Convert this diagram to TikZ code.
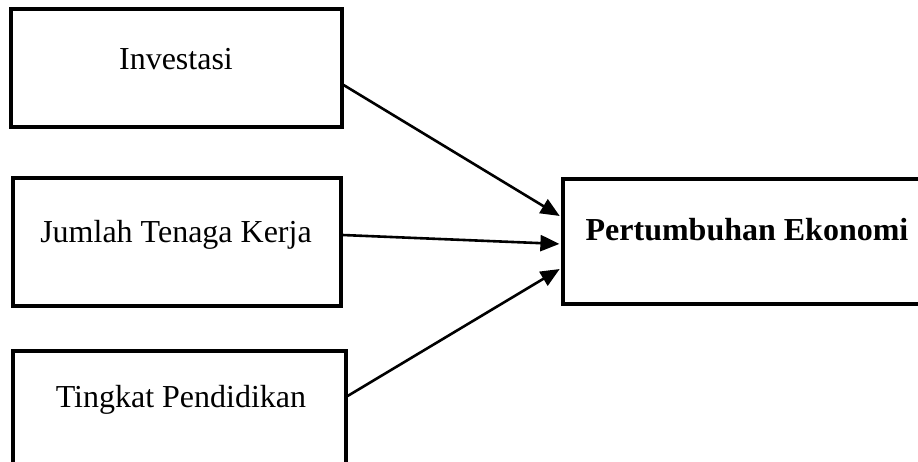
\documentclass[tikz,border=0pt]{standalone}
\usepackage{fontspec}
\setmainfont{Liberation Serif}
\usetikzlibrary{arrows.meta}

\begin{document}
\begin{tikzpicture}[x=1pt,y=-1pt,
		box/.style={draw, line width=3.2pt, inner sep=0pt},
		lbl/.style={anchor=base, inner sep=0pt, font=\fontsize{32}{38}\selectfont},
		link/.style={line width=2.6pt, shorten >=2pt, -{Triangle[length=19pt,width=16pt]}}]
		\useasboundingbox (0,0) rectangle (918,461);
		% boxes
		\node [box, minimum width=331pt, minimum height=118pt] (inv) at (176.5,68) {};
		\node [box, minimum width=328pt, minimum height=128pt] (tk) at (177,242) {};
		\node [box, minimum width=333pt, minimum height=140pt] (pend) at (179.5,421) {};
		\node [box, minimum width=370pt, minimum height=125pt] (eko) at (748,241.5) {};
		% labels
		\node [lbl] (invtext) at (176,69) {Investasi};
		\node [lbl] (tktext) at (176,242) {Jumlah Tenaga Kerja};
		\node [lbl] (pendtext) at (181,407) {Tingkat Pendidikan};
		\node [lbl, font=\fontsize{32}{38}\selectfont\bfseries] (ekotext) at (747,240) {Pertumbuhan Ekonomi};
		% arrows
		\draw [link] ([yshift=-17pt]inv.east) -- ([yshift=24.5pt]eko.west);
		\draw [link] ([yshift=7pt]tk.east) -- ([yshift=-2.5pt]eko.west);
		\draw [link] ([yshift=25pt]pend.east) -- ([yshift=-26.5pt]eko.west);
	\end{tikzpicture}
\end{document}
